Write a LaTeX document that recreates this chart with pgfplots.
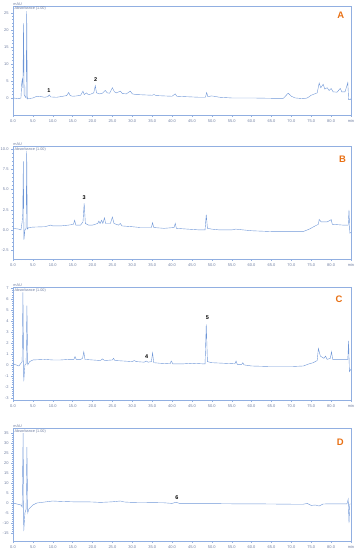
\documentclass[border=0pt]{standalone}
\usepackage{fontspec}
\setmainfont{Liberation Sans}
\usepackage{pgfplots}
\pgfplotsset{compat=1.18}
\definecolor{trace}{RGB}{110,150,215}
\definecolor{axblue}{RGB}{145,175,225}
\definecolor{labgray}{RGB}{110,125,160}
\definecolor{letterorange}{RGB}{232,112,20}
\pgfplotsset{chrom/.style={
  scale only axis, width=338bp, anchor=north west,
  xmin=0, xmax=85,
  xtick={0,5,...,85},
  xticklabels={0.0,5.0,10.0,15.0,20.0,25.0,30.0,35.0,40.0,45.0,50.0,55.0,60.0,65.0,70.0,75.0,80.0,min},
  minor x tick num=4, minor y tick num=4,
  tick pos=left, tick align=outside,
  major tick length=1.6bp, minor tick length=1bp,
  axis line style={draw=axblue, line width=0.7pt},
  every tick/.style={draw=axblue, line width=0.35pt},
  ticklabel style={font=\fontsize{4}{4.5}\selectfont, text=labgray},
  /pgf/number format/assume math mode=true,
  xticklabel style={yshift=0.6bp},
  yticklabel style={xshift=0.6bp},
  cycle list={{draw=trace, line width=0.5pt, no markers}},
  clip=false,
}}
\newcommand{\headtext}{%
  \node[font=\fontsize{3.8}{4}\selectfont, text=labgray, anchor=south west, inner sep=0.3bp] at (rel axis cs:0,1) {mAU};
  \node[font=\fontsize{3.8}{4}\selectfont, text=labgray, anchor=north west, inner sep=0.5bp] at (rel axis cs:0.003,0.995) {Absorbance (1.00)};}
\begin{document}
\begin{tikzpicture}
\useasboundingbox (0,0) rectangle (356bp,-550bp);
% ---------------- A
\begin{axis}[chrom, at={(13bp,-6bp)}, height=109bp, ymin=-5, ymax=27, ytick={0,5,10,15,20,25}]
\addplot coordinates {(0,0) (1.5,-0.2) (2.0,0) (2.2,4.5) (2.35,5.5) (2.5,3) (2.65,22) (2.8,1) (3.0,0.5) (3.3,0) (3.45,25.5) (3.6,-0.3) (4.0,-0.2) (5,0) (6,0.5) (7,0.4) (8,0.2) (8.8,0.4) (9.1,0.9) (9.5,0.3) (11,0.2) (12,0.4) (13.5,0.7) (14.0,1.6) (14.4,0.7) (15,0.5) (16,0.6) (17,0.8) (17.6,2.0) (17.9,1.0) (18.5,1.5) (18.9,1.0) (19.5,1.1) (20.3,1.5) (20.7,3.6) (21.0,1.5) (21.8,1.2) (22.5,1.4) (23.2,2.2) (23.7,1.5) (24.3,1.4) (25.0,3.0) (25.5,1.8) (26,1.5) (27,2.0) (27.5,1.3) (28.5,1.2) (29.5,2.0) (30,1.2) (31,1.0) (33,0.9) (35,0.8) (35.5,1.0) (36,0.7) (38,0.6) (40,0.5) (40.8,1.2) (41.2,0.5) (43,0.4) (45,0.3) (47,0.2) (48.4,0.2) (48.7,1.6) (49.0,0.4) (50,0.6) (52,0.2) (55,0) (60,0) (65,-0.1) (68,-0.1) (69.2,1.4) (70,0.5) (71,0) (73,-0.2) (74,0) (75,0.8) (76.5,1.5) (77.0,4.4) (77.4,3.0) (78.0,4.0) (78.4,2.6) (79.0,3.0) (79.5,2.2) (80.0,2.8) (80.5,1.8) (81.5,1.7) (82.3,2.8) (82.7,1.8) (83.5,1.8) (84.2,4.5) (84.4,-0.5) (84.8,-0.5) (85,-0.2)};
\headtext
\node[font=\bfseries\fontsize{5.5}{6}\selectfont] at (axis cs:9,2.1) {1};
\node[font=\bfseries\fontsize{5.5}{6}\selectfont] at (axis cs:20.8,5.3) {2};
\node[font=\bfseries\fontsize{9.5}{10}\selectfont, text=letterorange] at (rel axis cs:0.97,0.915) {A};
\end{axis}
% ---------------- B
\begin{axis}[chrom, at={(13bp,-146bp)}, height=113bp, ymin=-3.6, ymax=10.4, ytick={-2.5,0,2.5,5,7.5,10},
  yticklabel style={/pgf/number format/.cd, fixed, fixed zerofill, precision=1}]
\addplot coordinates {(0,0.2) (1.5,0.1) (2.0,0) (2.3,1.0) (2.45,2.0) (2.6,8.5) (2.75,-1.2) (3.0,0.0) (3.3,0.2) (3.45,9.8) (3.6,0.1) (4,0.3) (5,0.35) (8,0.4) (9.5,0.6) (10,0.5) (12,0.5) (14,0.6) (15.2,0.7) (15.5,1.2) (15.8,0.6) (17,0.6) (17.6,1.0) (17.9,3.3) (18.2,0.8) (19,0.6) (20,0.6) (21.3,0.8) (21.6,1.1) (21.9,0.8) (22.3,1.2) (22.6,0.8) (23.0,1.5) (23.3,0.8) (24.5,0.8) (25.0,1.6) (25.4,0.8) (26.5,0.6) (27,0.8) (27.4,0.5) (30,0.4) (32,0.3) (34.8,0.3) (35.1,0.9) (35.4,0.3) (38,0.2) (40.5,0.3) (40.8,0.8) (41.1,0.2) (44,0.1) (47,0.0) (48.3,0.0) (48.6,1.9) (48.9,0.2) (50,0.1) (52,0) (55,0) (56,0.1) (60,-0.1) (65,-0.2) (70,-0.2) (73,-0.2) (74.5,0.1) (76,0.5) (76.8,0.7) (77.0,1.3) (77.5,1.0) (79,1.0) (79.8,1.2) (80,1.3) (80.3,0.7) (83,0.6) (84.3,0.6) (84.5,2.5) (84.7,-0.4) (85,-0.3)};
\headtext
\node[font=\bfseries\fontsize{5.5}{6}\selectfont] at (axis cs:17.9,4.0) {3};
\node[font=\bfseries\fontsize{9.5}{10}\selectfont, text=letterorange] at (rel axis cs:0.975,0.885) {B};
\end{axis}
% ---------------- C
\begin{axis}[chrom, at={(13bp,-287bp)}, height=113bp, ymin=-3.2, ymax=7.1, ytick={-3,...,7}]
\addplot coordinates {(0,0.1) (1.5,-0.1) (2.3,0.3) (2.5,6.6) (2.7,-1.5) (3.0,0.0) (3.3,0.1) (3.5,5.4) (3.7,0.0) (4.2,0.3) (5,0.45) (8,0.5) (10,0.45) (12,0.45) (14,0.5) (15.3,0.5) (15.6,0.75) (15.9,0.5) (17,0.5) (17.5,0.6) (17.8,1.2) (18.1,0.5) (20,0.45) (22,0.4) (22.5,0.55) (23,0.4) (25,0.45) (25.3,0.6) (25.6,0.4) (28,0.35) (30,0.3) (30.5,0.4) (31,0.3) (33,0.25) (33.5,0.35) (34,0.25) (34.8,0.3) (35.1,1.1) (35.4,0.2) (37,0.15) (39.5,0.1) (39.8,0.35) (40.2,0.1) (43,0.1) (45,0.15) (47.5,0.1) (48.3,0.1) (48.6,3.7) (48.9,0.3) (50,0.2) (53,0.15) (55.8,0.1) (56.1,0.35) (56.4,0.05) (57.5,0.05) (57.8,0.2) (58.1,0) (60,-0.1) (65,-0.15) (70,-0.15) (73,-0.1) (74.5,0.1) (75.5,0.2) (76.5,0.4) (76.8,1.5) (77.3,0.8) (78.2,0.6) (78.6,0.8) (79,0.5) (79.8,0.6) (80.1,1.2) (80.4,0.5) (82,0.5) (84.2,0.5) (84.4,2.2) (84.6,-0.6) (85,-0.4)};
\headtext
\node[font=\bfseries\fontsize{5.5}{6}\selectfont] at (axis cs:33.6,0.75) {4};
\node[font=\bfseries\fontsize{5.5}{6}\selectfont] at (axis cs:48.9,4.3) {5};
\node[font=\bfseries\fontsize{9.5}{10}\selectfont, text=letterorange] at (rel axis cs:0.965,0.89) {C};
\end{axis}
% ---------------- D
\begin{axis}[chrom, at={(13bp,-428bp)}, height=113bp, ymin=-19, ymax=37.5, ytick={-15,-10,...,35}]
\addplot coordinates {(0,0) (1,-0.5) (2,-1) (2.3,-2) (2.55,35) (2.7,-14) (3.0,-5) (3.3,-3) (3.5,28) (3.7,-5) (4.0,-3) (5,-1) (6,0) (8,0.5) (10,1) (12,0.8) (15,0.6) (18,0.6) (20,0.5) (22,0.3) (25,0.6) (27,1.0) (28,0.5) (30,0.3) (35,0.2) (38,0.1) (40,-0.2) (41,0.4) (42,-0.3) (45,-0.3) (50,-0.3) (55,-0.4) (60,-0.4) (65,-0.5) (70,-0.6) (73,-0.6) (74,-0.2) (75,-1.2) (76,-1.0) (77,-1.5) (78,-0.5) (80,-0.4) (84,-0.4) (84.3,2) (84.5,-10) (84.7,-0.5) (85,-0.5)};
\headtext
\node[font=\bfseries\fontsize{5.5}{6}\selectfont] at (axis cs:41.2,2.8) {6};
\node[font=\bfseries\fontsize{9.5}{10}\selectfont, text=letterorange] at (rel axis cs:0.968,0.876) {D};
\end{axis}
\end{tikzpicture}
\end{document}
